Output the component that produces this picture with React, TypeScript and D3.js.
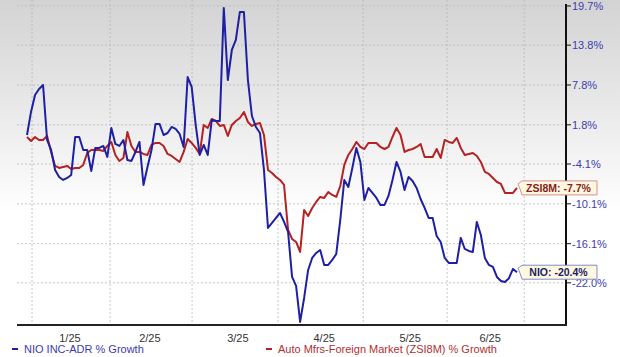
import React from 'react';
import * as d3 from 'd3';

const nioValues = [
  0.27, 3.74, 6.3, 7.2, 7.8, -0.48, -1.99, -5.0, -6.05, -6.5,
  -6.2, -5.75, -0.03, -0.03, -1.99, -1.99, -5.15, -1.68, -1.68, -1.38,
  -3.04, 1.33, -1.08, -1.38, -0.48, -3.49, -3.64, -2.29, -0.78, -7.26,
  -4.54, -1.99, 1.93, 1.93, 0.27, 0.57, 1.48, 1.18, 0.42, -1.53,
  9.0, 7.5, 1.78, -2.74, -1.23, -2.74, 2.53, 2.38, 2.38, 19.4,
  8.55, 13.07, 14.58, 18.8, 18.8, 8.55, 3.13, 1.48, 0.57, -5.0,
  -13.73, -12.98, -12.23, -11.48, -12.83, -14.34, -21.11, -22.47, -27.89, -24.28,
  -20.06, -18.25, -17.5, -17.05, -19.3, -19.3, -18.55, -17.65, -12.53, -6.5,
  -7.56, -4.7, -1.68, -3.79, -9.52, -7.71, -8.46, -9.21, -10.27, -10.27,
  -8.91, -6.5, -3.79, -5.3, -8.01, -6.05, -6.65, -7.71, -9.37, -10.72,
  -12.23, -12.23, -14.94, -15.84, -18.25, -19.0, -19.0, -19.0, -15.24, -16.9,
  -17.2, -17.35, -12.83, -14.79, -18.25, -19.3, -19.61, -21.11, -21.72, -21.87,
  -21.3, -19.9, -20.4,
];

const zsiValues = [
  -0.03, -0.63, -0.03, -0.48, -0.48, 0.12, -2.29, -4.39, -4.7, -4.54,
  -4.39, -4.85, -4.7, -4.7, -4.24, -2.44, -1.99, -1.99, -1.99, -2.14,
  -1.38, -0.78, -2.74, -3.64, -3.19, 0.72, -1.38, -2.29, -2.29, -2.59,
  -2.74, -1.23, -0.93, -0.93, -1.38, -2.59, -2.89, -3.34, -3.79, -2.29,
  -0.33, -0.93, -1.68, -2.59, 1.78, 1.33, 2.68, 2.38, 1.63, 1.78,
  0.12, 1.78, 2.38, 2.83, 3.74, 2.23, 1.63, 1.93, 2.08, 0.27,
  -5.0, -5.45, -6.05, -6.5, -7.26, -14.03, -15.39, -15.84, -17.35, -11.02,
  -11.93, -10.72, -9.82, -9.06, -9.21, -8.31, -8.76, -9.06, -7.41, -4.24,
  -2.74, -1.84, -0.78, -1.53, -1.84, -0.93, -0.93, -0.93, -1.53, -1.84,
  -1.53, -0.03, 1.33, 0.27, -2.29, -1.99, -1.84, -1.53, -1.08, -3.04,
  -3.04, -3.04, -1.84, -3.19, -0.48, -0.78, -0.93, -0.18, -1.68, -2.74,
  -2.59, -2.44, -2.89, -3.79, -5.3, -5.6, -6.2, -6.81, -7.11, -8.46,
  -8.46, -8.46, -7.7,
];

const yTickValues = [19.7, 13.8, 7.8, 1.8, -4.1, -10.1, -16.1, -22.0];
const monthLabels = ['1/25', '2/25', '3/25', '4/25', '5/25', '6/25'];
const monthLabelPos = [10.7, 30.6, 52.5, 74, 95.4, 115.3];
const gridPos = [1.25, 20.7, 41.1, 62.5, 83.7, 104.6, 123.8];

const nioName = 'NIO INC-ADR % Growth';
const zsiName = 'Auto Mfrs-Foreign Market (ZSI8M) % Growth';
const nioTag = 'NIO';
const zsiTag = 'ZSI8M';

const W = 620;
const H = 357;
const plotLeft = 17;
const plotRight = 566;
const plotBottom = 325;

const BLUE = '#1f1fa6';
const RED = '#b42222';
const FONT = '"Liberation Sans", Arial, sans-serif';

export default function App() {
  const x = d3.scaleLinear().domain([0, nioValues.length - 1]).range([27, 517]);
  const y = d3.scaleLinear().domain([-28.35, 20.6]).range([plotBottom, 0]);

  const line = d3
    .line<number>()
    .x((_, i) => x(i))
    .y((d) => y(d));

  const fmt = (v: number) => v.toFixed(1) + '%';

  const callout = (last: number, label: string, stroke: string, color: string) => {
    const tipX = x(nioValues.length - 1) + 1;
    const cy = y(last);
    const bx = 522;
    const bw = 75;
    const h = 7;
    const p = `M${tipX},${cy - 4} L${bx},${cy - h} L${bx + bw},${cy - h} L${bx + bw},${cy + h} L${bx},${cy + h} L${tipX + 2},${cy + 1} Z`;
    return (
      <g>
        <path d={p} fill="#fdf8df" stroke={stroke} strokeWidth={1} />
        <text
          x={bx + bw / 2 - 1}
          y={cy}
          dy="0.35em"
          textAnchor="middle"
          fontSize={10.5}
          fontWeight="bold"
          fill={color}
          fontFamily={FONT}
        >
          {label}
        </text>
      </g>
    );
  };

  return (
    <svg
      width={W}
      height={H}
      style={{ position: 'absolute', left: 0, top: 0, display: 'block' }}
    >
      <defs>
        <linearGradient id="bg" x1="0" y1="0" x2="0" y2="1">
          <stop offset="0" stopColor="#d3d3d3" />
          <stop offset="0.6" stopColor="#ffffff" />
          <stop offset="1" stopColor="#ffffff" />
        </linearGradient>
      </defs>
      <rect x={0} y={0} width={W} height={H} fill="url(#bg)" />

      {/* grid */}
      {yTickValues.map((v) => (
        <line
          key={'h' + v}
          x1={plotLeft}
          x2={plotRight}
          y1={y(v)}
          y2={y(v)}
          stroke="#b8b8b8"
          strokeWidth={0.8}
          strokeDasharray="2,2"
        />
      ))}
      {gridPos.map((g) => (
        <line
          key={'v' + g}
          x1={x(g)}
          x2={x(g)}
          y1={0}
          y2={plotBottom}
          stroke="#b8b8b8"
          strokeWidth={0.8}
          strokeDasharray="2,2"
        />
      ))}

      {/* lines */}
      <path d={line(zsiValues) || ''} fill="none" stroke={RED} strokeWidth={2} strokeLinejoin="round" />
      <path d={line(nioValues) || ''} fill="none" stroke={BLUE} strokeWidth={2} strokeLinejoin="round" />

      {/* axes */}
      <line x1={plotRight} x2={plotRight} y1={4} y2={plotBottom + 1} stroke="#111" strokeWidth={2} />
      <line x1={plotLeft} x2={plotRight + 1} y1={plotBottom} y2={plotBottom} stroke="#222" strokeWidth={2} />
      {yTickValues.map((v) => (
        <g key={'t' + v}>
          <line x1={plotRight} x2={plotRight + 5} y1={y(v)} y2={y(v)} stroke="#111" strokeWidth={1} />
          <text
            x={plotRight + 6}
            y={y(v)}
            dy="0.35em"
            fontSize={11}
            fill="#3c3cb4"
            fontFamily={FONT}
          >
            {fmt(v)}
          </text>
        </g>
      ))}
      {monthLabels.map((m, i) => (
        <text
          key={m}
          x={x(monthLabelPos[i])}
          y={338}
          dy="0.35em"
          textAnchor="middle"
          fontSize={11}
          fill="#333"
          fontFamily={FONT}
        >
          {m}
        </text>
      ))}

      {/* callouts */}
      {callout(zsiValues[zsiValues.length - 1], `${zsiTag}: ${fmt(zsiValues[zsiValues.length - 1])}`, '#d89090', '#8a1c1c')}
      {callout(nioValues[nioValues.length - 1], `${nioTag}: ${fmt(nioValues[nioValues.length - 1])}`, '#8a8ac8', '#1c1c66')}

      {/* legend */}
      <rect x={12} y={348} width={6} height={2} fill={BLUE} />
      <text x={24} y={349} dy="0.35em" fontSize={11} fill="#3c3cb4" fontFamily={FONT}>
        {nioName}
      </text>
      <rect x={266} y={348} width={6} height={2} fill={RED} />
      <text x={278} y={349} dy="0.35em" fontSize={11} fill="#b03030" fontFamily={FONT}>
        {zsiName}
      </text>
    </svg>
  );
}
